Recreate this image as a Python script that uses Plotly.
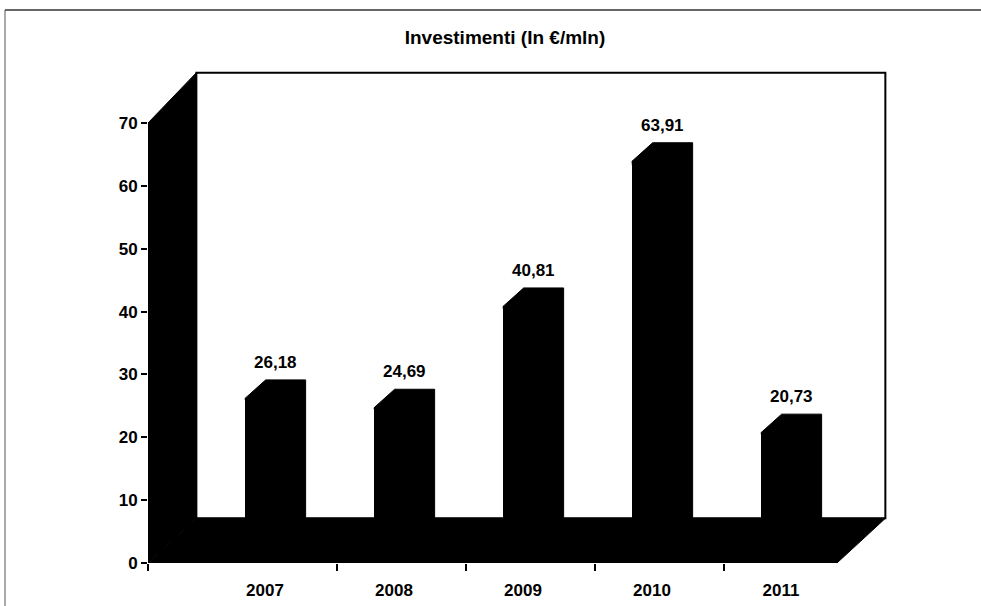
import plotly.graph_objects as go

# Investment per year (EUR million)
years = ["2007", "2008", "2009", "2010", "2011"]
investimenti = [26.18, 24.69, 40.81, 63.91, 20.73]
y_ticks = [0, 10, 20, 30, 40, 50, 60, 70]

title_text = "Investimenti (In €/mln)"

# --- geometry of the pseudo-3D box (axis units) ---
AXIS_MAX = 70
X_MIN, X_MAX = -0.907, 4.845          # x axis range (category index units)
Y_MIN, Y_MAX = 0, 78.75               # y axis range
FRONT_RIGHT = 4.434                   # right end of the floor front edge
DEPTH_X = 0.375                       # horizontal depth offset of the box
FLOOR_DEPTH_Y = 7.1                   # vertical depth offset at the floor
WALL_TOP_DEPTH_Y = 8.0                # vertical depth offset at the wall top
BAR_W = 0.31                          # width of a bar's front face
BAR_DX, BAR_DY = 0.16, 2.95           # depth offset of a bar's top face

FONT = "Liberation Sans, Arial, sans-serif"
xs = list(range(len(years)))

fig = go.Figure()

# front faces of the columns
fig.add_trace(go.Bar(
    x=xs, y=investimenti, width=BAR_W,
    marker=dict(color="black", line=dict(width=0)),
    hoverinfo="skip", showlegend=False,
))

# top and side faces of each column
for x, v in zip(xs, investimenti):
    l, r = x - BAR_W / 2, x + BAR_W / 2
    fig.add_trace(go.Scatter(
        x=[l, l + BAR_DX, r + BAR_DX, r + BAR_DX, r, l],
        y=[v, v + BAR_DY, v + BAR_DY, BAR_DY, 0, v],
        mode="lines", fill="toself", fillcolor="black",
        line=dict(color="black", width=1),
        hoverinfo="skip", showlegend=False,
    ))

shapes = []
back_left = X_MIN + DEPTH_X
back_right = FRONT_RIGHT + DEPTH_X
wall_top = AXIS_MAX + WALL_TOP_DEPTH_Y

# back wall
shapes.append(dict(type="rect", xref="x", yref="y", layer="below",
                   x0=back_left, x1=back_right, y0=FLOOR_DEPTH_Y, y1=wall_top,
                   fillcolor="white", line=dict(color="black", width=2)))
# left side wall
shapes.append(dict(type="path", xref="x", yref="y", layer="below",
                   path=f"M {X_MIN},0 L {X_MIN},{AXIS_MAX} L {back_left},{wall_top} "
                        f"L {back_left},{FLOOR_DEPTH_Y} Z",
                   fillcolor="black", line=dict(color="black", width=1)))
# floor
shapes.append(dict(type="path", xref="x", yref="y", layer="below",
                   path=f"M {X_MIN},0 L {FRONT_RIGHT},0 L {back_right},{FLOOR_DEPTH_Y} "
                        f"L {back_left},{FLOOR_DEPTH_Y} Z",
                   fillcolor="black", line=dict(color="black", width=1)))

# outer chart frame (top and left edges)
L_MARGIN, R_MARGIN, T_MARGIN, B_MARGIN = 148, 91, 68, 43
W, H = 981, 606
pw, ph = W - L_MARGIN - R_MARGIN, H - T_MARGIN - B_MARGIN


def px_to_paper(px, py):
    return (px - L_MARGIN) / pw, (H - B_MARGIN - py) / ph


fx0, fy0 = px_to_paper(5, 10)
fx1, fy1 = px_to_paper(W, H)
shapes.append(dict(type="line", xref="paper", yref="paper",
                   x0=fx0, x1=fx1, y0=fy0, y1=fy0, line=dict(color="#333", width=1.5)))
shapes.append(dict(type="line", xref="paper", yref="paper",
                   x0=fx0, x1=fx0, y0=fy0, y1=fy1, line=dict(color="#555", width=1)))

# value labels above each column
annotations = []
for x, v in zip(xs, investimenti):
    annotations.append(dict(
        x=x + BAR_DX / 2, y=v + BAR_DY, xref="x", yref="y",
        text=f"{v:.2f}".replace(".", ","), showarrow=False,
        yanchor="bottom", yshift=6,
        font=dict(family=FONT, size=17, color="black", weight="bold"),
    ))

fig.update_layout(
    width=W, height=H,
    margin=dict(l=L_MARGIN, r=R_MARGIN, t=T_MARGIN, b=B_MARGIN, pad=0),
    paper_bgcolor="white", plot_bgcolor="white",
    title=dict(text=title_text, x=505 / W, xanchor="center",
               y=1 - 37 / H, yanchor="middle", yref="container",
               font=dict(family=FONT, size=19, color="black", weight="bold")),
    shapes=shapes, annotations=annotations,
    xaxis=dict(
        range=[X_MIN, X_MAX], tickvals=xs, ticktext=years, automargin=False,
        ticks="outside", ticklen=12, tickcolor="rgba(0,0,0,0)",
        showgrid=False, zeroline=False, showline=False,
        tickfont=dict(family=FONT, size=17, color="black", weight="bold"),
        minor=dict(tickvals=[X_MIN] + [x + 0.56 for x in xs[:-1]],
                   ticks="outside", ticklen=7, tickwidth=2, tickcolor="black",
                   showgrid=False),
    ),
    yaxis=dict(
        range=[Y_MIN, Y_MAX], tickvals=y_ticks, automargin=False,
        ticks="outside", ticklen=6, tickwidth=2, tickcolor="black",
        showgrid=False, zeroline=False, showline=False,
        tickfont=dict(family=FONT, size=17, color="black", weight="bold"),
    ),
    bargap=0,
)

fig.write_html("out.html")
